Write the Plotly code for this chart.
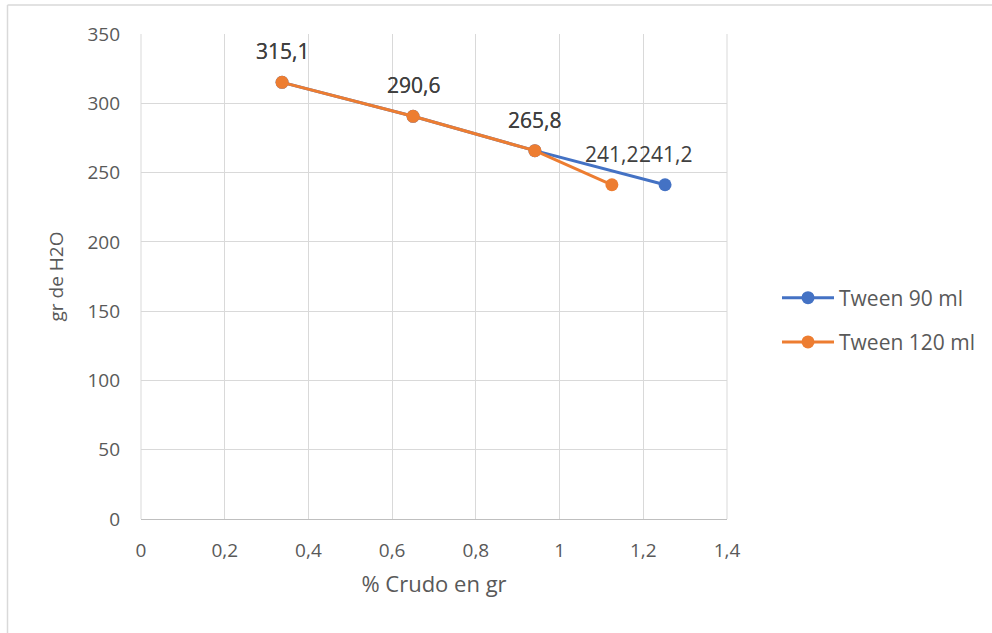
import plotly.graph_objects as go

# Data
series_names = ["Tween 90 ml", "Tween 120 ml"]
x_tween90 = [0.337, 0.650, 0.941, 1.252]
y_tween90 = [315.1, 290.6, 265.8, 241.2]
x_tween120 = [0.337, 0.650, 0.941, 1.125]
y_tween120 = [315.1, 290.6, 265.8, 241.2]
colors = ["#4472C4", "#ED7D31"]

W, H = 992, 633
L, R, T, B = 141, 727, 34, 519

FONT = "Open Sans"
TICK_COLOR = "#595959"
LABEL_COLOR = "#404040"
GRID = "#D9D9D9"

fig = go.Figure()
for i, (name, xs, ys, c) in enumerate([(series_names[0], x_tween90, y_tween90, colors[0]),
                                       (series_names[1], x_tween120, y_tween120, colors[1])]):
    fig.add_trace(go.Scatter(
        x=xs, y=ys, name=name, mode="lines+markers",
        legendgroup=f"g{i}",
        line=dict(color=c, width=3),
        marker=dict(color=c, size=13),
    ))

annotations = []
for xs, ys in [(x_tween90, y_tween90), (x_tween120, y_tween120)]:
    for xv, yv in zip(xs, ys):
        annotations.append(dict(
            x=xv, y=yv, xref="x", yref="y",
            text=f"{yv:.1f}".replace(".", ","),
            showarrow=False, yshift=31,
            font=dict(family=FONT, size=21, color=LABEL_COLOR),
        ))

def px_x(p):
    return (p - L) / (R - L)

def px_y(p):
    return (B - p) / (B - T)

shapes = [
    dict(type="line", xref="paper", yref="paper",
         x0=px_x(7.5), x1=px_x(W + 5), y0=px_y(5), y1=px_y(5),
         line=dict(color="#D9D9D9", width=1.5)),
    dict(type="line", xref="paper", yref="paper",
         x0=px_x(7.5), x1=px_x(7.5), y0=px_y(5), y1=px_y(H + 5),
         line=dict(color="#D9D9D9", width=1.5)),
    dict(type="line", xref="paper", yref="paper", x0=1, x1=1, y0=0, y1=1,
         line=dict(color=GRID, width=1)),
    dict(type="line", xref="paper", yref="paper", x0=0, x1=0, y0=0, y1=1,
         line=dict(color=GRID, width=1)),
]

fig.update_layout(
    width=W, height=H,
    margin=dict(l=L, r=W - R, t=T, b=H - B, autoexpand=False),
    paper_bgcolor="white", plot_bgcolor="white",
    separators=",.",
    font=dict(family=FONT, size=19, color=TICK_COLOR),
    showlegend=True,
    legend=dict(
        x=px_x(777), y=px_y(320), xanchor="left", yanchor="middle",
        font=dict(family=FONT, size=21, color=TICK_COLOR),
        itemwidth=52, tracegroupgap=14, traceorder="grouped",
        bgcolor="rgba(0,0,0,0)",
    ),
    annotations=annotations,
    shapes=shapes,
)

fig.update_xaxes(
    range=[0, 1.4], dtick=0.2, tick0=0,
    showgrid=True, gridcolor=GRID, gridwidth=1,
    zeroline=False, showline=True, linecolor="#BFBFBF", linewidth=1, mirror=False,
    ticks="", ticklabelstandoff=14, automargin=False,
    tickfont=dict(family=FONT, size=19, color=TICK_COLOR),
    title=dict(text="% Crudo en gr", standoff=14,
               font=dict(family=FONT, size=22, color=TICK_COLOR)),
)
fig.update_yaxes(
    range=[0, 350], dtick=50, tick0=0,
    showgrid=True, gridcolor=GRID, gridwidth=1,
    zeroline=False, showline=False,
    ticks="", ticklabelstandoff=20, automargin=False,
    tickfont=dict(family=FONT, size=19, color=TICK_COLOR),
    title=dict(text="gr de H2O", standoff=18,
               font=dict(family=FONT, size=19, color=TICK_COLOR)),
)

fig.write_html("out.html")
